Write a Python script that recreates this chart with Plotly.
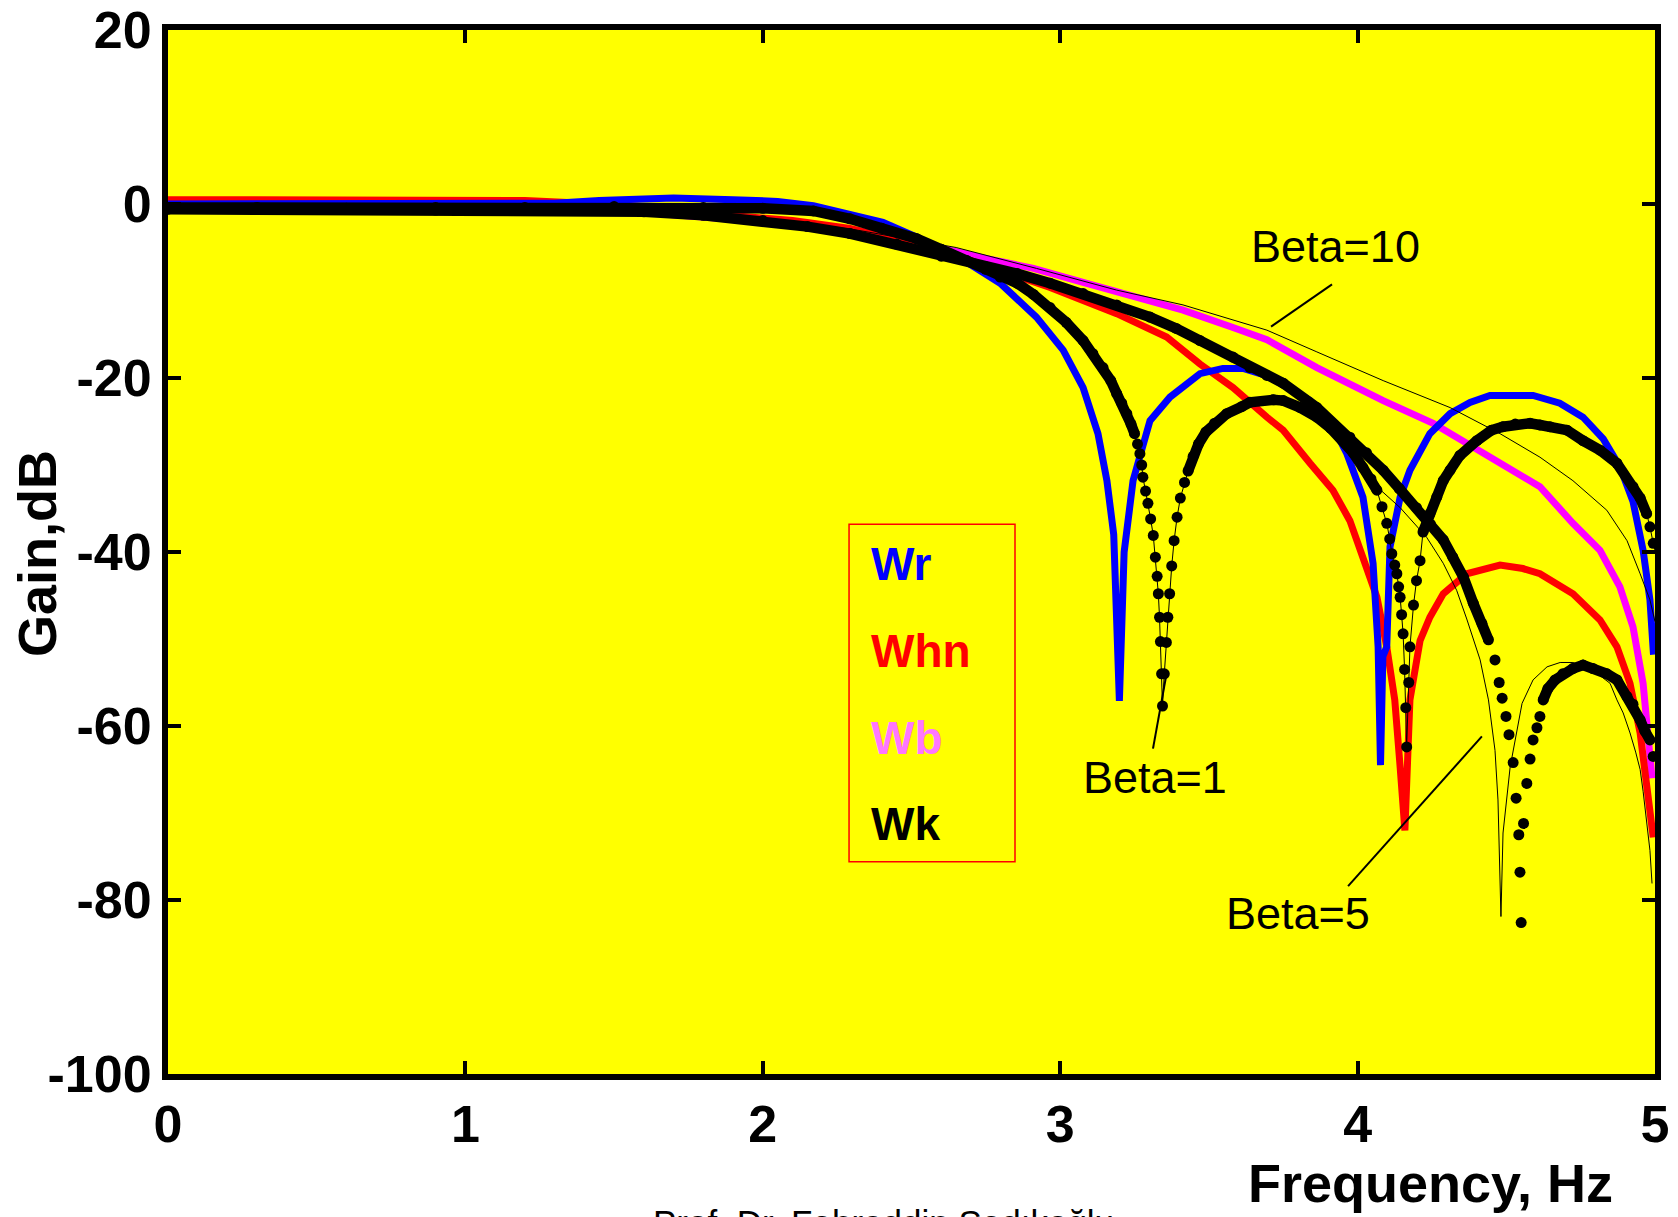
import plotly.graph_objects as go

# ---------------- data ----------------
# Wr : rectangular window
wr_f = [0, 0.5, 1.0, 1.3, 1.45, 1.7, 1.9, 2.05, 2.17, 2.293, 2.404, 2.518, 2.63, 2.686, 2.798, 2.92,
        3.01, 3.077, 3.127, 3.157, 3.18, 3.199, 3.215, 3.245, 3.302, 3.369, 3.47, 3.547, 3.615, 3.70,
        3.84, 3.907, 3.964, 4.018, 4.052, 4.069, 4.077, 4.085, 4.098, 4.109, 4.143, 4.176, 4.243,
        4.311, 4.378, 4.445, 4.59, 4.68, 4.758, 4.826, 4.882, 4.926, 4.96, 4.983, 4.995]
wr_db = [0.0, 0.0, 0.0, 0.1, 0.4, 0.7, 0.5, 0.3, -0.2, -1.1, -2.1, -3.8, -5.9, -6.7, -9.1, -13.0,
         -16.8, -21.1, -26.4, -31.8, -38.0, -57.1, -40.0, -31.8, -24.9, -22.2, -19.5, -18.9, -18.9, -19.8,
         -22.6, -24.9, -28.7, -33.7, -41.3, -50.9, -64.5, -52.0, -50.9, -39.4, -33.7, -30.6, -26.4,
         -24.1, -22.8, -22.0, -22.0, -22.9, -24.5, -27.0, -30.2, -34.2, -39.8, -45.5, -51.8]

# Whn : Hann window
whn_f = [0, 0.5, 1.0, 1.2, 1.4, 1.59, 1.75, 1.95, 2.1, 2.293, 2.5, 2.7, 2.855, 2.966, 3.19, 3.358,
         3.47, 3.581, 3.695, 3.75, 3.84, 3.917, 3.974, 4.018, 4.065, 4.098, 4.125, 4.143, 4.159, 4.176,
         4.21, 4.243, 4.288, 4.367, 4.479, 4.556, 4.613, 4.724, 4.815, 4.872, 4.916, 4.95, 4.972, 4.994]
whn_db = [0.5, 0.5, 0.5, 0.4, 0.1, -0.3, -0.9, -1.4, -1.9, -2.8, -4.5, -6.5, -8.4, -9.6, -12.6, -15.3,
          -18.4, -21.1, -24.5, -26.0, -29.8, -32.9, -36.4, -40.6, -45.2, -50.9, -57.0, -64.7, -72.0, -57.0,
          -50.2, -47.5, -44.8, -42.5, -41.5, -41.9, -42.5, -44.8, -47.8, -50.9, -55.1, -60.8, -66.6, -72.8]

# Wb : Blackman window
wb_f = [0, 1.0, 1.3, 1.46, 1.59, 1.85, 1.95, 2.31, 2.5, 2.741, 2.91, 3.077, 3.245, 3.413, 3.581, 3.695,
        3.863, 4.086, 4.254, 4.422, 4.613, 4.724, 4.815, 4.882, 4.926, 4.96, 4.977, 4.99]
wb_db = [0.0, 0.0, -0.2, -0.6, -0.9, -1.6, -1.9, -3.0, -4.3, -6.2, -7.4, -9.0, -10.5, -12.2, -14.2, -15.6,
         -18.8, -22.6, -25.2, -28.7, -32.5, -36.7, -39.8, -44.0, -48.6, -55.1, -60.8, -66.0]

# Wk : Kaiser window, Beta = 1 (dots)
k1_f = [0, 0.3, 0.6, 0.9, 1.2, 1.5, 1.8, 2.0, 2.17, 2.293, 2.4, 2.518, 2.6, 2.686, 2.75, 2.798, 2.855,
        2.91, 2.966, 3.02, 3.077, 3.11, 3.144, 3.17, 3.19, 3.207, 3.224, 3.238, 3.25, 3.26, 3.268,
        3.274, 3.278, 3.287, 3.295, 3.304, 3.313, 3.32, 3.326, 3.33, 3.334, 3.337, 3.341, 3.344,
        3.35, 3.357, 3.362, 3.368, 3.375, 3.383, 3.393, 3.404, 3.418, 3.43, 3.447, 3.465, 3.49,
        3.519, 3.56, 3.61, 3.638, 3.717, 3.75, 3.807, 3.863, 3.91, 3.952, 3.985, 4.018, 4.045,
        4.065, 4.082, 4.098, 4.108, 4.115, 4.125, 4.132, 4.138, 4.143, 4.148, 4.153, 4.158, 4.162,
        4.165, 4.172, 4.176, 4.188, 4.198, 4.21, 4.22, 4.243, 4.266, 4.288, 4.311, 4.344, 4.401,
        4.45, 4.489, 4.53, 4.58, 4.613, 4.647, 4.704, 4.758, 4.815, 4.872, 4.926, 4.95, 4.972,
        4.983, 4.994, 5.01, 5.023, 5.03, 5.04, 5.053]
k1_db = [-0.4, -0.4, -0.5, -0.4, -0.4, -0.3, -0.4, -0.5, -0.8, -1.7, -2.8, -4.0, -5.2, -6.5, -7.5, -8.4, -9.1,
         -10.4, -11.9, -13.6, -15.7, -17.2, -18.8, -20.3, -21.8, -22.9, -24.1, -25.3, -26.4, -27.6, -28.7,
         -30.0, -31.4, -33.0, -34.4, -36.2, -38.1, -40.6, -42.8, -44.8, -47.5, -50.3, -54.0, -57.7,
         -54.0, -50.4, -47.5, -44.8, -41.6, -38.7, -36.0, -33.8, -32.0, -30.7, -29.0, -27.6, -26.2,
         -25.2, -24.1, -23.3, -22.8, -22.5, -22.6, -23.4, -24.5, -25.8, -27.2, -28.6, -30.3, -31.6,
         -32.9, -34.8, -36.7, -38.5, -40.2, -41.5, -42.5, -44.0, -45.2, -47.2, -49.4, -53.5, -57.9,
         -62.4, -55.0, -50.9, -46.1, -43.3, -41.0, -37.7, -35.6, -33.7, -31.8, -30.6, -28.9, -27.2,
         -26.0, -25.6, -25.3, -25.2, -25.4, -25.6, -26.0, -27.2, -28.3, -29.8, -32.5, -33.8, -35.6,
         -37.1, -39.0, -41.3, -43.0, -45.5, -49.0, -55.3]
k1_tail_f = [5.047]
k1_tail_db = [-62.8]

# Wk : Kaiser window, Beta = 5 (dots)
k5_f = [0, 0.3, 0.6, 0.9, 1.2, 1.5, 1.6, 1.8, 2.0, 2.15, 2.293, 2.45, 2.6, 2.75, 2.855, 2.966, 3.077,
        3.19, 3.302, 3.39, 3.47, 3.581, 3.638, 3.695, 3.75, 3.863, 3.974, 4.03, 4.086, 4.14, 4.198,
        4.245, 4.288, 4.32, 4.356, 4.389, 4.418, 4.44, 4.462, 4.476, 4.486, 4.499, 4.509, 4.523,
        4.533, 4.542, 4.546, 4.55, 4.558, 4.569, 4.58, 4.59, 4.603, 4.613, 4.624, 4.64, 4.664, 4.69,
        4.724, 4.758, 4.792, 4.838, 4.872, 4.906, 4.926, 4.95, 4.966, 4.983, 4.994, 5.007, 5.017,
        5.027, 5.04, 5.05]
k5_db = [-0.6, -0.6, -0.6, -0.7, -0.6, -0.7, -0.9, -1.3, -1.9, -2.6, -3.4, -4.6, -6.0, -7.2, -8.0, -9.1,
         -10.3, -11.6, -13.0, -14.3, -15.7, -17.6, -18.8, -19.7, -20.6, -23.4, -26.8, -28.6, -30.6,
         -32.7, -34.9, -36.8, -38.6, -40.6, -42.9, -45.9, -48.2, -50.1, -52.4, -55.0, -56.8, -58.9,
         -61.0, -64.2, -68.3, -72.5, -76.8, -82.6, -71.2, -66.6, -63.8, -61.6, -60.2, -58.9, -57.0,
         -55.7, -54.7, -54.0, -53.4, -53.0, -53.4, -54.0, -54.7, -56.6, -57.5, -59.3, -60.6, -61.6,
         -63.5, -65.5, -67.6, -70.0, -73.5, -79.4]

# Wk : Kaiser window, Beta = 5 (thin line)
k5l_f = [0, 1.5, 2.0, 2.293, 2.6, 2.855, 3.077, 3.302, 3.47, 3.638, 3.75, 3.863, 3.974, 4.065, 4.143,
         4.232, 4.288, 4.333, 4.367, 4.389, 4.412, 4.44, 4.462, 4.472, 4.482, 4.489, 4.513, 4.553,
         4.59, 4.637, 4.681, 4.724, 4.792, 4.849, 4.872, 4.893, 4.916, 4.935, 4.95, 4.96, 4.972,
         4.983, 4.99]
k5l_db = [-0.6, -0.7, -1.9, -3.4, -6.0, -8.0, -10.3, -13.0, -15.7, -18.8, -20.6, -23.6, -27.3, -32.5,
          -34.9, -38.3, -41.3, -44.4, -47.7, -50.0, -52.4, -57.0, -62.8, -68.5, -81.9, -72.3, -64.7,
          -57.4, -54.7, -53.2, -52.7, -52.7, -53.6, -55.1, -57.0, -58.5, -60.8, -63.0, -65.0, -67.5,
          -70.8, -74.3, -78.1]

# Wk : Kaiser window, Beta = 10 (thin line)
k10_f = [0, 1.0, 1.5, 1.95, 2.3, 2.65, 2.92, 3.19, 3.413, 3.695, 3.863, 4.086, 4.311, 4.479, 4.613,
         4.724, 4.838, 4.906, 4.95, 4.983, 5.0]
k10_db = [-0.3, -0.3, -0.6, -1.5, -2.9, -5.0, -7.4, -9.9, -11.6, -14.5, -17.0, -20.3, -23.4, -26.4,
          -29.1, -31.8, -35.2, -38.7, -42.5, -45.5, -48.0]

x_tick_vals = [0, 1, 2, 3, 4, 5]
x_tick_text = ["0", "1", "2", "3", "4", "5"]
y_tick_vals = [20, 0, -20, -40, -60, -80, -100]
y_tick_text = ["20", "0", "-20", "-40", "-60", "-80", "-100"]

legend_names = ["Wr", "Whn", "Wb", "Wk"]

# ---------------- styling ----------------
FONT = "Liberation Sans, Arial, sans-serif"
PX_PER_HZ = 297.4
PX_PER_DB = 8.704


def thick_segments(fs, dbs, ratio=3.0):
    """Break the thick line where the curve is so steep that the dots separate."""
    xs, ys = [fs[0]], [dbs[0]]
    for i in range(1, len(fs)):
        dx = abs(fs[i] - fs[i - 1]) * PX_PER_HZ
        dy = abs(dbs[i] - dbs[i - 1]) * PX_PER_DB
        if dy > ratio * max(dx, 1e-9) and dy > 6:
            xs.append(None)
            ys.append(None)
        xs.append(fs[i])
        ys.append(dbs[i])
    return xs, ys


fig = go.Figure()

LW = 7
fig.add_trace(go.Scatter(x=wb_f, y=wb_db, mode="lines", line=dict(color="#FF00FF", width=LW),
                         name="Wb", showlegend=False))
fig.add_trace(go.Scatter(x=whn_f, y=whn_db, mode="lines", line=dict(color="#FF0000", width=LW),
                         name="Whn", showlegend=False))
fig.add_trace(go.Scatter(x=wr_f, y=wr_db, mode="lines", line=dict(color="#0000FF", width=LW),
                         name="Wr", showlegend=False))

# thin black lines
fig.add_trace(go.Scatter(x=k10_f, y=k10_db, mode="lines", line=dict(color="black", width=1),
                         showlegend=False))
fig.add_trace(go.Scatter(x=k5l_f, y=k5l_db, mode="lines", line=dict(color="black", width=1),
                         showlegend=False))
fig.add_trace(go.Scatter(x=k1_f + k1_tail_f, y=k1_db + k1_tail_db, mode="lines",
                         line=dict(color="black", width=1), showlegend=False, cliponaxis=False))

# thick dotted Kaiser curves
for fs, dbs in [(k5_f, k5_db), (k1_f, k1_db)]:
    tx, ty = thick_segments(fs, dbs)
    fig.add_trace(go.Scatter(x=tx, y=ty, mode="lines", line=dict(color="black", width=10.5),
                             connectgaps=False, showlegend=False))
    fig.add_trace(go.Scatter(x=fs, y=dbs, mode="markers", marker=dict(color="black", size=11),
                             showlegend=False, cliponaxis=False))

# ---------------- annotations ----------------
ann = []
beta_labels = [("Beta=10", 3.927, -4.9), ("Beta=1", 3.319, -65.9), ("Beta=5", 3.80, -81.5)]
for txt, fx, dy in beta_labels:
    ann.append(dict(x=fx, y=dy, xref="x", yref="y", text=txt, showarrow=False,
                    xanchor="center", yanchor="middle",
                    font=dict(family=FONT, size=45, color="black")))

pointer_lines = [(3.914, -9.24, 3.709, -14.1), (3.356, -54.3, 3.312, -62.6), (4.418, -61.2, 3.968, -78.4)]
shapes = []
for x0, y0, x1, y1 in pointer_lines:
    shapes.append(dict(type="line", xref="x", yref="y", x0=x0, y0=y0, x1=x1, y1=y1,
                       line=dict(color="black", width=2)))

# legend box
shapes.append(dict(type="rect", xref="x", yref="y", x0=2.29, x1=2.848, y0=-75.6, y1=-36.8,
                   line=dict(color="#FF0000", width=1.5), fillcolor="rgba(0,0,0,0)"))
legend_colors = ["#0000FF", "#FF0000", "#FF77FF", "#000000"]
legend_y = [-41.4, -51.4, -61.4, -71.3]
for name, col, ly in zip(legend_names, legend_colors, legend_y):
    ann.append(dict(x=2.357, y=ly, xref="x", yref="y", text="<b>%s</b>" % name, showarrow=False,
                    xanchor="left", yanchor="middle", font=dict(family=FONT, size=46, color=col)))

# axis titles
ann.append(dict(x=-0.0881, y=0.499, xref="paper", yref="paper", text="<b>Gain,dB</b>", showarrow=False,
                xanchor="center", yanchor="middle", textangle=-90,
                font=dict(family=FONT, size=54, color="black")))
ann.append(dict(x=0.8487, y=-0.1044, xref="paper", yref="paper", text="<b>Frequency, Hz</b>",
                xanchor="center", yanchor="middle", showarrow=False,
                font=dict(family=FONT, size=54, color="black")))
ann.append(dict(x=0.3248, y=-0.1418, xref="paper", yref="paper", xanchor="left", yanchor="middle",
                text="Prof. Dr. Fahreddin Sadıkoğlu", showarrow=False,
                font=dict(family=FONT, size=35, color="black")))

axis_common = dict(showline=True, linecolor="black", linewidth=6, mirror="allticks",
                   ticks="inside", ticklen=13, tickwidth=4, tickcolor="black",
                   showgrid=False, zeroline=False, automargin=False,
                   tickfont=dict(family=FONT, size=52, color="black", weight="bold"))

fig.update_layout(
    width=1678, height=1217,
    margin=dict(l=168, r=23, t=30, b=143, autoexpand=False),
    paper_bgcolor="white", plot_bgcolor="#FFFF00",
    xaxis=dict(range=[0, 5], tickvals=x_tick_vals, ticktext=x_tick_text, **axis_common),
    yaxis=dict(range=[-100, 20], tickvals=y_tick_vals, ticktext=y_tick_text, **axis_common),
    annotations=ann, shapes=shapes, showlegend=False,
    font=dict(family=FONT),
)

fig.write_html("out.html", config={"displayModeBar": False},
               post_script="document.body.style.margin='0';document.body.style.overflow='hidden';")
